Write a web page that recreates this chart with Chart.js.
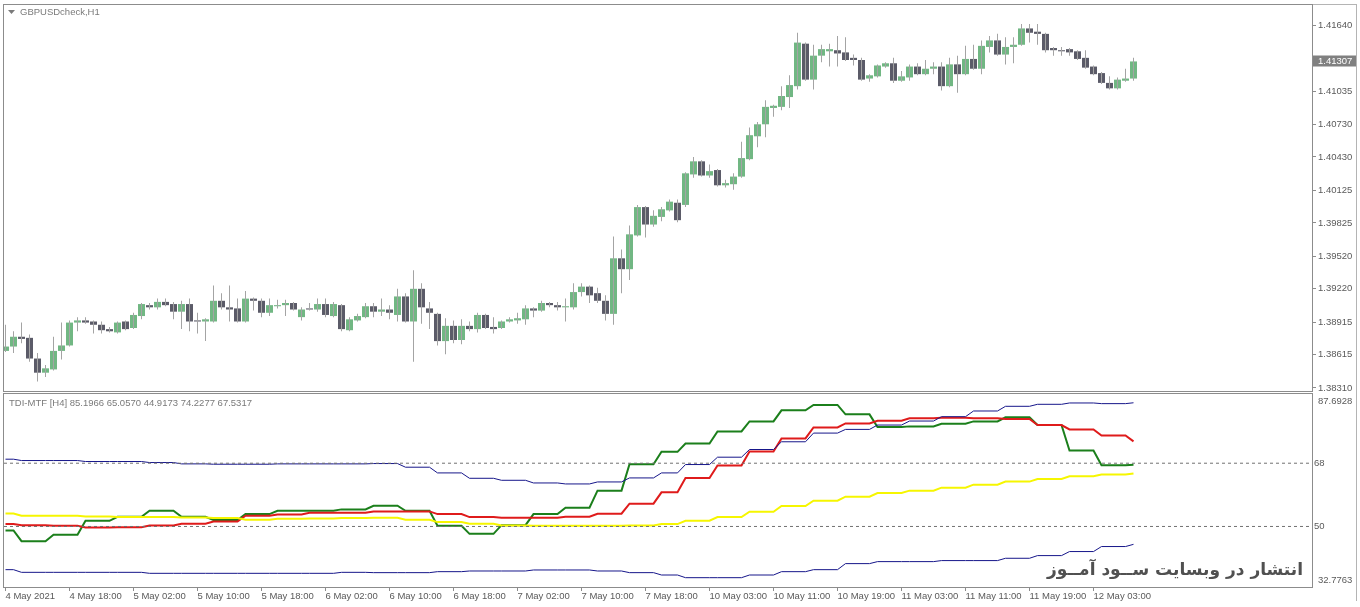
<!DOCTYPE html>
<html>
<head>
<meta charset="utf-8">
<title>GBPUSDcheck,H1</title>
<script src="https://cdn.jsdelivr.net/npm/chart.js@4.4.0/dist/chart.umd.min.js"></script>
<style>
html, body { margin: 0; padding: 0; background: #fff; }
#wrap { position: relative; width: 1360px; height: 607px; overflow: hidden; background: #fff; }
canvas { position: absolute; left: 0; }
#price { top: 0; }
#tdi { top: 392px; }
</style>
</head>
<body>
<div id="wrap">
  <canvas id="price" width="1360" height="398"></canvas>
  <canvas id="tdi" width="1360" height="215"></canvas>
</div>
<script>
// H1 candles, one entry per bar (bar 0 = 4 May 10:00)
const opens = [
  1.3865, 1.3869, 1.3878, 1.3877, 1.3858, 1.3845, 1.3848, 1.3865, 1.3870, 1.3891,
  1.3893, 1.3892, 1.3889, 1.3885, 1.3882, 1.3892, 1.3886, 1.3897, 1.3907, 1.3905,
  1.3910, 1.3908, 1.3901, 1.3908, 1.3893, 1.3892, 1.3892, 1.3911, 1.3905, 1.3904,
  1.3892, 1.3913, 1.3911, 1.3900, 1.3906, 1.3907, 1.3909, 1.3896, 1.3904, 1.3903,
  1.3908, 1.3897, 1.3907, 1.3884, 1.3893, 1.3896, 1.3906, 1.3901, 1.3903, 1.3898,
  1.3915, 1.3892, 1.3922, 1.3904, 1.3899, 1.3874, 1.3888, 1.3875, 1.3888, 1.3885,
  1.3898, 1.3887, 1.3886, 1.3892, 1.3893, 1.3894, 1.3904, 1.3902, 1.3909, 1.3907,
  1.3905, 1.3905, 1.3919, 1.3924, 1.3918, 1.3911, 1.3899, 1.3950, 1.3940, 1.3971,
  1.3997, 1.3981, 1.3988, 1.3994, 1.4001, 1.3999, 1.4027, 1.4039, 1.4026, 1.4031,
  1.4017, 1.4018, 1.4025, 1.4041, 1.4062, 1.4073, 1.4088, 1.4089, 1.4098, 1.4108,
  1.4147, 1.4114, 1.4136, 1.4140, 1.4141, 1.4139, 1.4134, 1.4132, 1.4115, 1.4117,
  1.4126, 1.4129, 1.4113, 1.4116, 1.4126, 1.4119, 1.4124, 1.4126, 1.4108, 1.4128,
  1.4119, 1.4133, 1.4124, 1.4144, 1.4150, 1.4137, 1.4144, 1.4146, 1.4161, 1.4158,
  1.4156, 1.4143, 1.4141, 1.4142, 1.4140, 1.4134, 1.4126, 1.4120, 1.4111, 1.4106,
  1.4113, 1.4115
];
const highs = [
  1.3889, 1.3883, 1.3891, 1.3880, 1.3863, 1.3852, 1.3878, 1.3891, 1.3893, 1.3896,
  1.3896, 1.3893, 1.3892, 1.3887, 1.3892, 1.3893, 1.3900, 1.3909, 1.3909, 1.3913,
  1.3913, 1.3910, 1.3911, 1.3913, 1.3900, 1.3895, 1.3925, 1.3918, 1.3925, 1.3913,
  1.3920, 1.3914, 1.3913, 1.3913, 1.3912, 1.3912, 1.3910, 1.3905, 1.3909, 1.3913,
  1.3913, 1.3910, 1.3908, 1.3896, 1.3899, 1.3909, 1.3909, 1.3913, 1.3907, 1.3922,
  1.3918, 1.3939, 1.3927, 1.3910, 1.3900, 1.3895, 1.3893, 1.3894, 1.3892, 1.3900,
  1.3899, 1.3896, 1.3893, 1.3896, 1.3900, 1.3907, 1.3905, 1.3911, 1.3910, 1.3910,
  1.3913, 1.3927, 1.3927, 1.3925, 1.3923, 1.3916, 1.3970, 1.3958, 1.3980, 1.3999,
  1.3998, 1.3994, 1.3997, 1.4004, 1.4004, 1.4029, 1.4043, 1.4040, 1.4036, 1.4032,
  1.4022, 1.4028, 1.4057, 1.4070, 1.4075, 1.4095, 1.4091, 1.4108, 1.4118, 1.4157,
  1.4148, 1.4146, 1.4146, 1.4147, 1.4154, 1.4153, 1.4137, 1.4134, 1.4119, 1.4128,
  1.4130, 1.4134, 1.4122, 1.4128, 1.4129, 1.4132, 1.4130, 1.4130, 1.4134, 1.4136,
  1.4145, 1.4146, 1.4150, 1.4154, 1.4156, 1.4153, 1.4153, 1.4165, 1.4165, 1.4165,
  1.4157, 1.4144, 1.4144, 1.4143, 1.4141, 1.4141, 1.4127, 1.4121, 1.4117, 1.4116,
  1.4124, 1.4134
];
const lows = [
  1.3864, 1.3863, 1.3872, 1.3855, 1.3837, 1.3841, 1.3847, 1.3857, 1.3869, 1.3883,
  1.3890, 1.3881, 1.3881, 1.3882, 1.3881, 1.3884, 1.3885, 1.3894, 1.3903, 1.3903,
  1.3906, 1.3894, 1.3885, 1.3883, 1.3881, 1.3874, 1.3891, 1.3903, 1.3892, 1.3891,
  1.3891, 1.3902, 1.3896, 1.3897, 1.3904, 1.3897, 1.3902, 1.3893, 1.3902, 1.3901,
  1.3896, 1.3896, 1.3883, 1.3883, 1.3892, 1.3895, 1.3896, 1.3897, 1.3894, 1.3892,
  1.3891, 1.3855, 1.3890, 1.3885, 1.3870, 1.3862, 1.3872, 1.3871, 1.3883, 1.3882,
  1.3885, 1.3881, 1.3885, 1.3891, 1.3890, 1.3889, 1.3896, 1.3901, 1.3905, 1.3902,
  1.3892, 1.3903, 1.3915, 1.3909, 1.3909, 1.3893, 1.3889, 1.3918, 1.3930, 1.3970,
  1.3969, 1.3979, 1.3984, 1.3993, 1.3983, 1.3997, 1.4024, 1.4025, 1.4024, 1.4016,
  1.4015, 1.4013, 1.4024, 1.4040, 1.4052, 1.4061, 1.4080, 1.4086, 1.4088, 1.4105,
  1.4113, 1.4105, 1.4130, 1.4126, 1.4126, 1.4131, 1.4127, 1.4113, 1.4112, 1.4116,
  1.4125, 1.4111, 1.4112, 1.4113, 1.4118, 1.4118, 1.4119, 1.4104, 1.4107, 1.4102,
  1.4118, 1.4123, 1.4119, 1.4139, 1.4136, 1.4128, 1.4129, 1.4145, 1.4148, 1.4146,
  1.4139, 1.4136, 1.4136, 1.4136, 1.4132, 1.4124, 1.4118, 1.4110, 1.4105, 1.4105,
  1.4112, 1.4113
];
const closes = [
  1.3869, 1.3878, 1.3876, 1.3858, 1.3845, 1.3849, 1.3865, 1.3870, 1.3891, 1.3893,
  1.3891, 1.3889, 1.3884, 1.3883, 1.3891, 1.3885, 1.3898, 1.3908, 1.3905, 1.3910,
  1.3907, 1.3901, 1.3908, 1.3892, 1.3892, 1.3894, 1.3911, 1.3905, 1.3903, 1.3892,
  1.3913, 1.3911, 1.3900, 1.3907, 1.3907, 1.3909, 1.3903, 1.3903, 1.3903, 1.3908,
  1.3898, 1.3908, 1.3885, 1.3894, 1.3897, 1.3906, 1.3901, 1.3903, 1.3900, 1.3915,
  1.3892, 1.3922, 1.3905, 1.3900, 1.3874, 1.3888, 1.3875, 1.3888, 1.3885, 1.3898,
  1.3886, 1.3885, 1.3892, 1.3894, 1.3895, 1.3904, 1.3902, 1.3909, 1.3907, 1.3905,
  1.3906, 1.3919, 1.3924, 1.3916, 1.3911, 1.3899, 1.3950, 1.3940, 1.3972, 1.3997,
  1.3981, 1.3989, 1.3995, 1.4002, 1.3985, 1.4028, 1.4039, 1.4026, 1.4030, 1.4017,
  1.4019, 1.4025, 1.4042, 1.4063, 1.4073, 1.4089, 1.4090, 1.4099, 1.4109, 1.4148,
  1.4114, 1.4136, 1.4142, 1.4142, 1.4138, 1.4132, 1.4132, 1.4114, 1.4118, 1.4127,
  1.4129, 1.4113, 1.4117, 1.4126, 1.4119, 1.4124, 1.4126, 1.4108, 1.4128, 1.4119,
  1.4133, 1.4124, 1.4145, 1.4150, 1.4137, 1.4144, 1.4146, 1.4161, 1.4157, 1.4156,
  1.4141, 1.4141, 1.4140, 1.4139, 1.4133, 1.4125, 1.4119, 1.4111, 1.4106, 1.4114,
  1.4115, 1.41307
];

// price axis labels as printed on the right
const priceTicks = [1.41640, 1.41035, 1.40730, 1.40430, 1.40125, 1.39825, 1.39520, 1.39220, 1.38915, 1.38615, 1.38310];
const PRICE_MIN = 1.38282;
const PRICE_MAX = 1.41825;

// time axis, one label every 8 bars
const timeLabels = [
  '4 May 2021', '4 May 18:00', '5 May 02:00', '5 May 10:00', '5 May 18:00', '6 May 02:00',
  '6 May 10:00', '6 May 18:00', '7 May 02:00', '7 May 10:00', '7 May 18:00', '10 May 03:00',
  '10 May 11:00', '10 May 19:00', '11 May 03:00', '11 May 11:00', '11 May 19:00', '12 May 03:00'
];

// TDI on H4: first H1 bar of every H4 bar, then one value per H4 bar
const h4Start = [0, 2, 6, 10, 14, 18, 22, 26, 30, 34, 38, 42, 46, 50, 54, 58, 62, 66, 70, 74, 78, 82,
  85, 89, 93, 97, 101, 105, 109, 113, 117, 121, 125, 129, 133, 137, 141];
const upperBand = [69.14, 68.76, 68.76, 68.48, 68.48, 68.19, 67.81, 67.71, 67.71, 67.81, 67.81, 67.81,
  67.90, 66.86, 65.24, 63.71, 63.14, 62.38, 62.10, 62.67, 63.81, 65.24, 67.62, 69.71, 71.90, 74.10,
  76.57, 77.62, 78.86, 80.00, 81.24, 82.86, 84.19, 84.76, 85.14, 84.95, 85.1966];
const middleBand = [53.71, 53.05, 53.05, 52.86, 52.67, 52.67, 52.57, 52.38, 51.90, 52.19, 52.29, 52.38,
  52.48, 51.90, 51.24, 50.76, 50.29, 50.19, 50.19, 50.19, 50.29, 50.67, 51.62, 52.67, 54.19, 55.81,
  57.33, 58.48, 59.52, 60.19, 61.05, 61.90, 62.76, 63.52, 64.29, 64.76, 65.0570];
const lowerBand = [37.71, 36.95, 36.95, 36.95, 36.95, 36.67, 36.67, 36.67, 36.67, 36.67, 36.67, 36.95,
  36.86, 36.86, 37.14, 37.33, 37.33, 37.62, 37.62, 37.33, 36.86, 36.19, 35.43, 35.43, 36.19, 37.14,
  37.71, 39.43, 40.00, 40.00, 40.29, 40.29, 40.95, 41.71, 42.86, 44.29, 44.9173];
const signalLine = [50.67, 50.38, 50.19, 49.71, 49.81, 50.29, 50.76, 51.43, 53.05, 53.43, 53.90, 53.90,
  54.29, 54.29, 53.52, 52.67, 52.48, 52.48, 52.76, 53.62, 56.48, 59.71, 63.81, 67.33, 71.33, 75.05,
  78.19, 79.33, 80.10, 80.76, 80.95, 80.76, 80.57, 78.86, 77.62, 75.90, 74.2277];
const priceLine = [48.86, 45.81, 47.62, 51.62, 52.76, 54.48, 52.76, 51.81, 53.52, 54.48, 54.48, 54.86,
  55.90, 54.48, 50.19, 47.90, 50.38, 53.52, 55.33, 60.19, 67.71, 71.24, 73.62, 77.05, 79.90, 83.05,
  84.57, 81.90, 78.29, 78.48, 79.24, 79.90, 81.05, 78.86, 71.62, 67.43, 67.5317];
const levels = [68, 50];
const TDI_MIN = 32.7763;
const TDI_MAX = 87.6928;

const UP = '#71b783';
const DOWN = '#5b5b68';
const WICK = '#a4a4a4';
const TEXT = '#5a5a5a';
const FRAME = '#8c8c8c';
const FONT = { family: 'Liberation Sans', size: 9.5 };

// both panels share the same bar -> pixel mapping (8 px per bar)
const X_MIN = -0.1875;
const X_MAX = 163.3125;
const lastBar = closes.length - 1;

Chart.defaults.font.family = FONT.family;
Chart.defaults.font.size = FONT.size;
Chart.defaults.color = TEXT;

const wickData = highs.map((h, i) => ({ x: i, y: [lows[i], h] }));
const bodyData = opens.map((o, i) => ({ x: i, y: [Math.min(o, closes[i]), Math.max(o, closes[i])] }));
const bodyColors = opens.map((o, i) => closes[i] >= o ? UP : DOWN);

function stepPoints(values) {
  const pts = [];
  values.forEach((v, k) => {
    const s = h4Start[k];
    const e = k + 1 < h4Start.length ? h4Start[k + 1] - 1 : lastBar;
    pts.push({ x: s, y: v });
    if (e > s) pts.push({ x: e, y: v });
  });
  return pts;
}

function fixAxis(scale, size) {
  if (scale.isHorizontal()) scale.height = size; else scale.width = size;
  scale.paddingTop = 0;
  scale.paddingBottom = 0;
  scale.paddingLeft = 0;
  scale.paddingRight = 0;
}

function fontStr(weight, size, family) {
  return weight + ' ' + size + 'px "' + family + '"';
}

const priceDecor = {
  id: 'priceDecor',
  afterDraw(chart) {
    const { ctx, chartArea: a } = chart;
    ctx.save();
    // window frame
    ctx.strokeStyle = '#b4b4b4';
    ctx.lineWidth = 1;
    ctx.beginPath();
    ctx.moveTo(3, 4.5); ctx.lineTo(1357, 4.5);
    ctx.moveTo(1356.5, 4); ctx.lineTo(1356.5, 398);
    ctx.stroke();
    // panel frame
    ctx.strokeStyle = FRAME;
    ctx.strokeRect(a.left - 0.5, a.top - 0.5, a.right - a.left + 1, a.bottom - a.top + 1);
    // title
    ctx.fillStyle = '#7a7a7a';
    ctx.beginPath();
    ctx.moveTo(8, 10); ctx.lineTo(15, 10); ctx.lineTo(11.5, 14); ctx.closePath();
    ctx.fill();
    ctx.font = fontStr('normal', FONT.size, FONT.family);
    ctx.textBaseline = 'middle';
    ctx.textAlign = 'left';
    ctx.fillText('GBPUSDcheck,H1', 20, 12.5);
    // current price marker
    const last = closes[lastBar];
    const y = Math.round(chart.scales.y.getPixelForValue(last));
    ctx.fillStyle = '#808080';
    ctx.fillRect(1313, y - 5.5, 43, 11);
    ctx.fillStyle = '#ffffff';
    ctx.fillText(last.toFixed(5), 1318, y + 0.5);
    ctx.restore();
  }
};

const tdiDecor = {
  id: 'tdiDecor',
  afterDraw(chart) {
    const { ctx, chartArea: a } = chart;
    ctx.save();
    ctx.strokeStyle = '#b4b4b4';
    ctx.lineWidth = 1;
    ctx.beginPath();
    ctx.moveTo(1356.5, 0); ctx.lineTo(1356.5, 209);
    ctx.stroke();
    ctx.strokeStyle = FRAME;
    ctx.strokeRect(a.left - 0.5, a.top - 0.5, a.right - a.left + 1, a.bottom - a.top + 1);
    ctx.font = fontStr('normal', FONT.size, FONT.family);
    ctx.textBaseline = 'middle';
    ctx.textAlign = 'left';
    ctx.fillStyle = '#7a7a7a';
    const lastVals = [upperBand, middleBand, lowerBand, signalLine, priceLine]
      .map(s => s[s.length - 1].toFixed(4)).join(' ');
    ctx.fillText('TDI-MTF [H4] ' + lastVals, 9, a.top + 9);
    // scale limits
    ctx.fillStyle = TEXT;
    ctx.fillText(TDI_MAX.toFixed(4), 1318, a.top + 7);
    ctx.fillText(TDI_MIN.toFixed(4), 1318, a.bottom - 7);
    // watermark
    ctx.font = fontStr('bold', 17, 'DejaVu Sans');
    ctx.fillStyle = '#505050';
    ctx.textAlign = 'right';
    ctx.fillText('انتشار در وبسایت ســود آمــوز', 1303, 179);
    ctx.restore();
  }
};

new Chart(document.getElementById('price'), {
  type: 'bar',
  data: {
    datasets: [
      { data: wickData, backgroundColor: WICK, barThickness: 1, grouped: false, inflateAmount: 0, borderWidth: 0 },
      { data: bodyData, backgroundColor: bodyColors, barThickness: 7, grouped: false, inflateAmount: 0, borderWidth: 0, minBarLength: 1 }
    ]
  },
  options: {
    responsive: false,
    animation: false,
    devicePixelRatio: 1,
    layout: { padding: { left: 4, top: 5, right: 0, bottom: 7 } },
    plugins: { legend: { display: false }, tooltip: { enabled: false } },
    scales: {
      x: { type: 'linear', min: X_MIN, max: X_MAX, offset: false, display: false },
      y: {
        position: 'right',
        min: PRICE_MIN,
        max: PRICE_MAX,
        afterFit: s => fixAxis(s, 48),
        afterBuildTicks: s => { s.ticks = priceTicks.map(v => ({ value: v })); },
        ticks: { callback: v => v.toFixed(5), padding: 2, autoSkip: false, color: TEXT },
        grid: { drawOnChartArea: false, drawTicks: true, tickLength: 4, color: FRAME },
        border: { display: false }
      }
    }
  },
  plugins: [priceDecor]
});

const levelSets = levels.map(v => ({
  data: [{ x: X_MIN, y: v }, { x: X_MAX, y: v }],
  borderColor: '#707070', borderWidth: 1, borderDash: [3, 3]
}));

new Chart(document.getElementById('tdi'), {
  type: 'line',
  data: {
    datasets: levelSets.concat([
      { data: stepPoints(upperBand), borderColor: '#16168a', borderWidth: 1 },
      { data: stepPoints(middleBand), borderColor: '#f6f600', borderWidth: 2 },
      { data: stepPoints(lowerBand), borderColor: '#16168a', borderWidth: 1 },
      { data: stepPoints(signalLine), borderColor: '#df1b1b', borderWidth: 2 },
      { data: stepPoints(priceLine), borderColor: '#1b7f1b', borderWidth: 2 }
    ])
  },
  options: {
    responsive: false,
    animation: false,
    devicePixelRatio: 1,
    layout: { padding: { left: 4, top: 2, right: 0, bottom: 0 } },
    elements: { point: { radius: 0 }, line: { tension: 0 } },
    plugins: { legend: { display: false }, tooltip: { enabled: false } },
    scales: {
      x: {
        type: 'linear', min: X_MIN, max: X_MAX, offset: false,
        afterFit: s => fixAxis(s, 20),
        afterBuildTicks: s => { s.ticks = timeLabels.map((t, k) => ({ value: k * 8 })); },
        ticks: { callback: (v, k) => timeLabels[k], align: 'start', autoSkip: false, maxRotation: 0, minRotation: 0, padding: 0, color: TEXT },
        grid: { drawOnChartArea: false, drawTicks: true, tickLength: 4, color: FRAME },
        border: { display: false }
      },
      y: {
        position: 'right',
        min: TDI_MIN,
        max: TDI_MAX,
        afterFit: s => fixAxis(s, 48),
        afterBuildTicks: s => { s.ticks = levels.map(v => ({ value: v })); },
        ticks: { callback: v => String(v), padding: 2, autoSkip: false, color: TEXT },
        grid: { drawOnChartArea: false, drawTicks: false },
        border: { display: false }
      }
    }
  },
  plugins: [tdiDecor]
});
</script>
</body>
</html>
